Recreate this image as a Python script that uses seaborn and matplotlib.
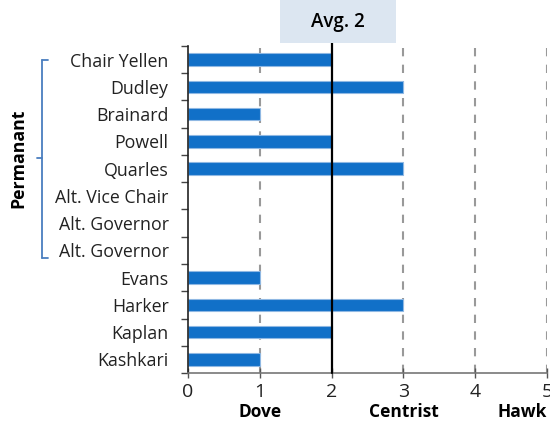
import numpy as np
import pandas as pd
import matplotlib
matplotlib.use("Agg")
import matplotlib.pyplot as plt
from matplotlib.patches import Rectangle
from matplotlib.lines import Line2D
import seaborn as sns

# FOMC voters and their policy stance score (0 = most dovish, 5 = most hawkish)
members = ["Chair Yellen", "Dudley", "Brainard", "Powell", "Quarles",
           "Alt. Vice Chair", "Alt. Governor", "Alt. Governor",
           "Evans", "Harker", "Kaplan", "Kashkari"]
scores = [2, 3, 1, 2, 3, np.nan, np.nan, np.nan, 1, 3, 2, 1]
stance_ticks = [0, 1, 2, 3, 4, 5]
stance_names = {1: "Dove", 3: "Centrist", 5: "Hawk"}
group_label = "Permanant"

sns.set_theme(style="white")
plt.rcParams["font.family"] = ["Open Sans", "DejaVu Sans"]

slots = [f"s{i}" for i in range(len(members))]
df = pd.DataFrame({"slot": slots, "score": scores})
avg = float(np.nanmean(scores))

fig = plt.figure(figsize=(5.5, 4.23), dpi=100)
ax = fig.add_axes([188 / 550, 50 / 423, 359 / 550, 327 / 423])

sns.barplot(data=df, x="score", y="slot", order=slots, orient="h",
            color="#1170c8", saturation=1, width=0.45,
            edgecolor="#8fb8e3", linewidth=0.8, ax=ax)

ax.set_xlim(0, 5)
ax.set_ylim(len(members) - 0.5, -0.5)

# dashed reference lines at each stance step, solid line at the average
for v in stance_ticks[1:]:
    if v != avg:
        ax.axvline(v, color="#999999", linestyle=(0, (4, 4)), linewidth=1.5, zorder=0)
ax.axvline(avg, ymin=0, ymax=(373 - 43) / 327, color="black",
           linewidth=1.6, clip_on=False, zorder=3)

# axis styling
for s in ["top", "right"]:
    ax.spines[s].set_visible(False)
ax.spines["left"].set_color("#222222")
ax.spines["left"].set_linewidth(1.2)
ax.spines["bottom"].set_color("#777777")
ax.spines["bottom"].set_linewidth(1.2)

ax.set_yticks(range(len(members)))
ax.set_yticklabels(members, fontsize=12.8, color="#222222")
ax.set_yticks(np.arange(-0.5, len(members), 1), minor=True)
ax.tick_params(axis="y", which="major", length=0, pad=14)
ax.tick_params(axis="y", which="minor", left=True, length=5, width=1, color="#444444")

ax.set_xticks(stance_ticks)
ax.set_xticklabels([str(t) for t in stance_ticks], fontsize=14, color="#222222")
ax.tick_params(axis="x", bottom=True, direction="inout", length=7, width=1,
               color="#555555", pad=4)
ax.set_xlabel("")
ax.set_ylabel("")

for v, name in stance_names.items():
    ha = "right" if v == stance_ticks[-1] else "center"
    ax.text(v, -0.12, name, transform=ax.get_xaxis_transform(), ha=ha,
            va="center", fontsize=12.5, fontweight="bold", color="black")

# average label box
fig.patches.append(Rectangle((280 / 550, 1 - 43 / 423), 116 / 550, 43 / 423,
                             transform=fig.transFigure, facecolor="#dce6f1",
                             edgecolor="none"))
fig.text(338 / 550, 1 - 22 / 423, f"Avg. {avg:g}", ha="center", va="center",
         fontsize=13.5, fontweight="semibold", color="black")

# bracket grouping the permanent voters
bc = "#4a7ebf"
bx, btop, bbot, bmid = 42 / 550, 1 - 60 / 423, 1 - 258 / 423, 1 - 158 / 423
for xs, ys in [([bx, bx], [btop, bbot]),
               ([bx, 48 / 550], [btop, btop]),
               ([bx, 48 / 550], [bbot, bbot]),
               ([37 / 550, bx], [bmid, bmid])]:
    fig.add_artist(Line2D(xs, ys, transform=fig.transFigure, color=bc, linewidth=1.3))
fig.text(18 / 550, bmid, group_label, rotation=90, ha="center", va="center",
         fontsize=12.8, fontweight="bold", color="black")

fig.savefig("out.png", dpi=100, facecolor="white")
